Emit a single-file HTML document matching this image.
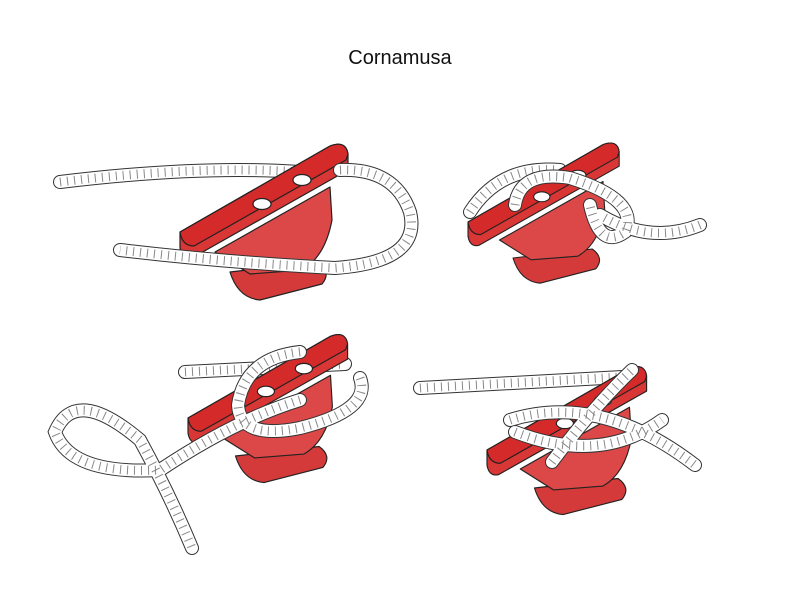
<!DOCTYPE html>
<html><head><meta charset="utf-8"><style>
html,body{margin:0;padding:0;background:#fff;width:800px;height:600px;overflow:hidden}
</style></head><body>
<svg width="800" height="600" viewBox="0 0 800 600" xmlns="http://www.w3.org/2000/svg">
<defs>
<g id="cl" stroke="#222" stroke-width="1.2" stroke-linejoin="round">
 <path d="M50,40 Q58,66 80,68 L142,52 Q152,40 138,30 Z" fill="#d43a3a"/>
 <path d="M35,20 L150,-45 L152,-12 Q145,25 122,38 L70,42 Z" fill="#dc4848"/>
 <path d="M0,0 L150,-86 Q166,-92 168,-78 L168,-62 L12,26 Q2,28 0,16 Z" fill="#d93636"/>
 <path d="M0,0 L150,-86 Q166,-92 168,-78 L166,-72 L14,14 Q2,14 0,0 Z" fill="#d42a2a"/>
 <ellipse cx="82" cy="-28" rx="9" ry="5.5" fill="#fff"/>
 <ellipse cx="122" cy="-52" rx="9" ry="5.5" fill="#fff"/>
</g>
<g id="ropes" fill="none">
 <path d="M60,182 Q200,165 300,172"/>
 <path d="M470,212 Q500,165 560,170"/>
 <path d="M185,372 L345,364"/>
 <path d="M420,388 L640,376"/>
</g>
<g id="ropes2" fill="none">
 <path d="M340,170 Q395,168 410,212 Q422,262 335,268 Q220,262 120,250"/>
 <path d="M515,205 Q520,170 570,178 Q640,200 625,232 Q600,250 590,205"/>
 <path d="M700,225 Q650,245 600,215"/>
 <path d="M300,352 Q245,358 238,405 Q240,440 300,428 Q372,410 360,378"/>
 <path d="M300,400 Q235,420 160,470 Q70,475 55,432 Q75,385 140,440 Q170,495 192,548"/>
 <path d="M510,420 Q600,392 695,465"/>
 <path d="M552,462 Q595,405 632,370"/>
 <path d="M515,432 Q600,465 662,420"/>
</g>
</defs>
<text x="400" y="64" text-anchor="middle" font-family="Liberation Sans, sans-serif" font-size="20" fill="#111">Cornamusa</text>
<use href="#ropes" stroke="#333" stroke-width="14" stroke-linecap="round"/>
<use href="#ropes" stroke="#fff" stroke-width="12" stroke-linecap="round"/>
<use href="#ropes" stroke="#888" stroke-width="9" stroke-dasharray="1 6" stroke-linecap="butt"/>
<use href="#cl" transform="translate(180,232)"/>
<use href="#cl" transform="translate(468,222) scale(0.9)"/>
<use href="#cl" transform="translate(188,418) scale(0.95)"/>
<use href="#cl" transform="translate(487,450) scale(0.95)"/>
<use href="#ropes2" stroke="#333" stroke-width="14" stroke-linecap="round"/>
<use href="#ropes2" stroke="#fff" stroke-width="12" stroke-linecap="round"/>
<use href="#ropes2" stroke="#888" stroke-width="9" stroke-dasharray="1 6" stroke-linecap="butt"/>
</svg>
</body></html>
